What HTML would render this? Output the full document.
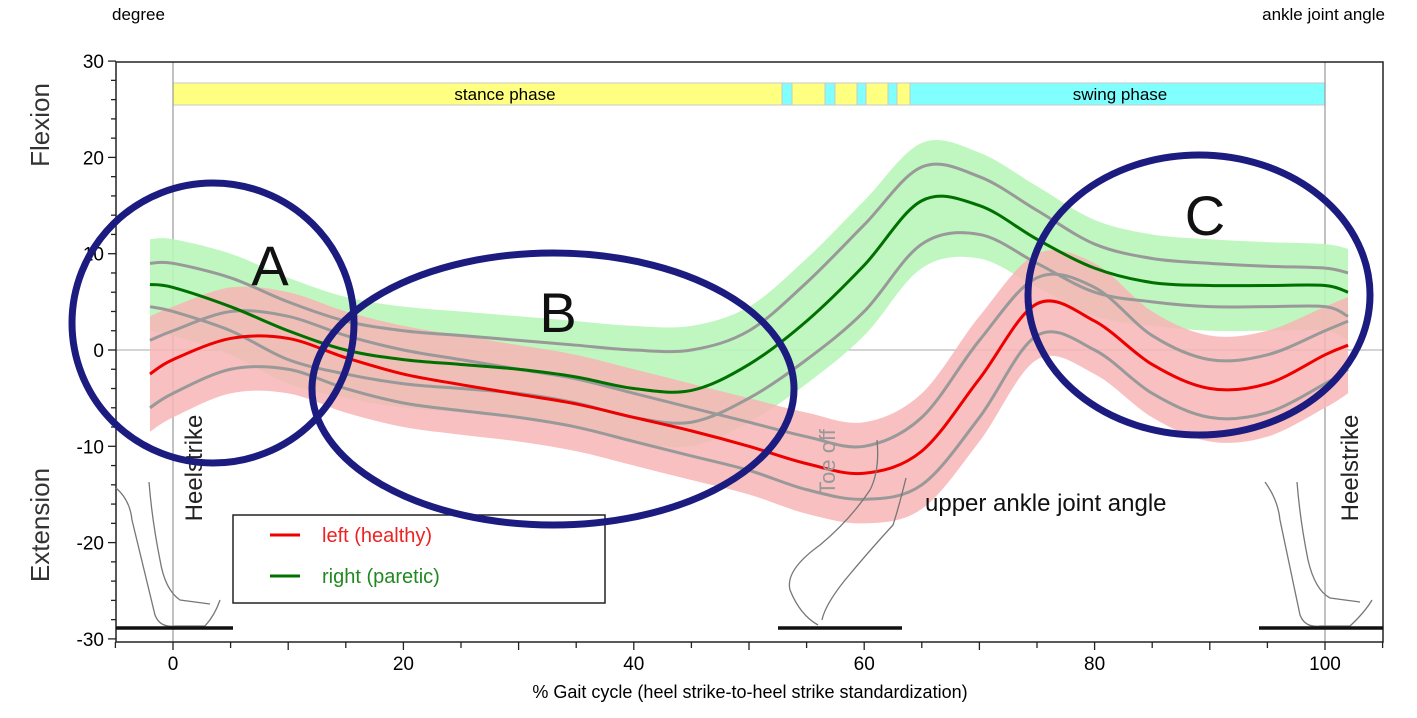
<!DOCTYPE html>
<html><head><meta charset="utf-8"><style>
body{margin:0;background:#fff;}
svg{display:block;font-family:"Liberation Sans",sans-serif;}
</style></head><body>
<svg id="c" width="1417" height="718" viewBox="0 0 1417 718"></svg>
<script>
const xs = [-2,0,5,10,15,20,25,30,35,40,45,50,55,60,65,70,75,80,85,90,95,100,102];
const redMean = [-2.5,-1,1.2,1.2,-0.8,-2.5,-3.6,-4.6,-5.6,-7,-8.4,-10,-11.8,-12.8,-10.5,-3,4.8,3,-1.5,-4,-3.5,-0.5,0.5];
const redUpper = [1,2,4,3.5,1.5,0,-1,-2,-3,-4.5,-6,-7.5,-9,-10,-7,1,7.5,6.5,1.5,-1,-0.5,2,3];
const redLower = [-6,-4.5,-2,-2,-4,-5.5,-6.3,-7,-8,-9.5,-11,-12.5,-14.5,-15.5,-14,-7,1.5,0,-4.5,-7,-6.5,-3.5,-2];
const greenMean = [6.8,6.5,4.5,2,0,-1,-1.5,-2,-2.8,-4,-4.2,-1.5,3,8.8,15.5,15,11.5,8.5,7,6.7,6.7,6.7,6];
const greenUpper = [9,9,7.5,5,3,2,1.5,1,0.5,0,0,2,7,13,19,18,14.5,11,9.5,9,8.7,8.5,8];
const greenLower = [4.5,4,2,-1,-2.5,-3.5,-4,-4.5,-5.5,-7,-7.5,-5,-1,4,11,12,9,6,5,4.5,4.5,4.5,3.5];
const xTicks = [0,20,40,60,80,100];
const yTicks = [-30,-20,-10,0,10,20,30];

const svg = document.getElementById('c');
const NS = 'http://www.w3.org/2000/svg';
const X = v => 173 + v * 11.52;
const Y = v => 350 - v * 9.63;
function mk(tag, attrs, parent){const e=document.createElementNS(NS,tag);for(const k in attrs)e.setAttribute(k,attrs[k]);(parent||svg).appendChild(e);return e;}
function curve(p){let d='';
  for(let i=0;i<p.length-1;i++){const p0=p[i-1]||p[i],p1=p[i],p2=p[i+1],p3=p[i+2]||p2;
    d+=`C${p1[0]+(p2[0]-p0[0])/6},${p1[1]+(p2[1]-p0[1])/6} ${p2[0]-(p3[0]-p1[0])/6},${p2[1]-(p3[1]-p1[1])/6} ${p2[0]},${p2[1]}`;}
  return d;}
function smooth(arr){const p=arr.map((v,i)=>[X(xs[i]),Y(v)]);return 'M'+p[0][0]+','+p[0][1]+curve(p);}
function band(up,lo,extra){
  const u=up.map(v=>v+extra), l=lo.map(v=>v-extra);
  let d=smooth(u);
  const p=l.map((v,i)=>[X(xs[i]),Y(v)]).reverse();
  d+='L'+p[0][0]+','+p[0][1]+curve(p);
  return d+'Z';}

const segs=[[173,782,'#ffff80'],[782,792,'#80ffff'],[792,825,'#ffff80'],[825,835,'#80ffff'],[835,857,'#ffff80'],[857,866,'#80ffff'],[866,888,'#ffff80'],[888,897,'#80ffff'],[897,910,'#ffff80'],[910,1325,'#80ffff']];
const pb=mk('g',{});
segs.forEach(s=>mk('rect',{x:s[0],y:83,width:s[1]-s[0],height:22,fill:s[2],stroke:'#c8c8c8','stroke-width':1},pb));
let t=mk('text',{x:505,y:100,'font-size':17,'text-anchor':'middle'});t.textContent='stance phase';
t=mk('text',{x:1120,y:100,'font-size':17,'text-anchor':'middle'});t.textContent='swing phase';

mk('line',{x1:X(0),y1:62,x2:X(0),y2:642,stroke:'#999','stroke-width':1.2});
mk('line',{x1:X(100),y1:62,x2:X(100),y2:642,stroke:'#999','stroke-width':1.2});
mk('line',{x1:116,y1:Y(0),x2:1383,y2:Y(0),stroke:'#aaa','stroke-width':1});

let b=mk('path',{d:band(greenUpper,greenLower,2.5),fill:'#b9f5b9',opacity:0.9});
b=mk('path',{d:band(redUpper,redLower,2.5),fill:'#f7b5b5',opacity:0.85});
[[greenUpper,'right-sd-upper'],[greenLower,'right-sd-lower'],[redUpper,'left-sd-upper'],[redLower,'left-sd-lower']].forEach(a=>{
  const p=mk('path',{d:smooth(a[0]),fill:'none',stroke:'#999','stroke-width':3});});
let m=mk('path',{d:smooth(greenMean),fill:'none',stroke:'#007000','stroke-width':3});
m=mk('path',{d:smooth(redMean),fill:'none',stroke:'#ee0000','stroke-width':3});

mk('rect',{x:116,y:62,width:1267,height:580,fill:'none',stroke:'#222','stroke-width':1.5});
for(let v=-30;v<=30;v+=2){const big=v%10===0;mk('line',{x1:big?108:111,y1:Y(v),x2:116,y2:Y(v),stroke:'#222','stroke-width':1.3});}
yTicks.forEach(v=>{const e=mk('text',{x:104,y:Y(v)+7,'font-size':19,'text-anchor':'end'});e.textContent=v;});
for(let v=-5;v<=105;v+=5){mk('line',{x1:X(v),y1:642,x2:X(v),y2:v%10===0?650:648,stroke:'#222','stroke-width':1.3});}
xTicks.forEach(v=>{const e=mk('text',{x:X(v),y:670,'font-size':19,'text-anchor':'middle'});e.textContent=v;});
t=mk('text',{x:750,y:698,'font-size':18,'text-anchor':'middle'});t.textContent='% Gait cycle (heel strike-to-heel strike standardization)';
t=mk('text',{x:112,y:20,'font-size':17});t.textContent='degree';
t=mk('text',{x:1385,y:20,'font-size':17,'text-anchor':'end'});t.textContent='ankle joint angle';
t=mk('text',{x:0,y:0,'font-size':26,'text-anchor':'middle',fill:'#333',transform:'translate(49,125) rotate(-90)'});t.textContent='Flexion';
t=mk('text',{x:0,y:0,'font-size':26,'text-anchor':'middle',fill:'#333',transform:'translate(49,525) rotate(-90)'});t.textContent='Extension';
t=mk('text',{x:0,y:0,'font-size':24,'text-anchor':'middle',fill:'#222',transform:'translate(202,468) rotate(-90)'});t.textContent='Heelstrike';
t=mk('text',{x:0,y:0,'font-size':24,'text-anchor':'middle',fill:'#222',transform:'translate(1358,468) rotate(-90)'});t.textContent='Heelstrike';
t=mk('text',{x:0,y:0,'font-size':22,'text-anchor':'middle',fill:'#999',transform:'translate(835,462) rotate(-90)'});t.textContent='Toe off';
t=mk('text',{x:925,y:511,'font-size':24,fill:'#111'});t.textContent='upper ankle joint angle';

const feet=mk('g',{fill:'none',stroke:'#777','stroke-width':1.3});
mk('path',{d:'M116,488 Q130,500 132,520 L155,615 Q160,628 175,626 L205,626 Q215,615 220,600 M149,482 Q152,520 160,560 Q165,590 180,600 L210,604',},feet);
mk('path',{d:'M877,440 Q880,470 870,490 Q850,520 820,545 Q785,570 790,590 Q800,615 818,625 M906,478 Q898,510 893,525 Q870,550 845,580 Q825,605 822,620',},feet);
mk('path',{d:'M1265,482 Q1278,500 1280,520 L1300,615 Q1305,628 1320,626 L1350,626 Q1365,612 1372,600 M1297,482 Q1300,520 1308,560 Q1315,590 1330,598 L1360,602',},feet);
[[116,233],[778,902],[1259,1383]].forEach(g=>{const l=mk('line',{x1:g[0],y1:628,x2:g[1],y2:628,stroke:'#111','stroke-width':3.5});});

const lg=mk('g',{});
mk('rect',{x:233,y:515,width:372,height:88,fill:'#fff',stroke:'#222','stroke-width':1.5},lg);
mk('line',{x1:270,y1:535,x2:300,y2:535,stroke:'#ee0000','stroke-width':3},lg);
mk('line',{x1:270,y1:576,x2:300,y2:576,stroke:'#007000','stroke-width':3},lg);
t=mk('text',{x:322,y:542,'font-size':20,fill:'#ee2222'},lg);t.textContent='left (healthy)';
t=mk('text',{x:322,y:583,'font-size':20,fill:'#228822'},lg);t.textContent='right (paretic)';

[[213,323,141,140,'A',270,285],[553,389,241,136,'B',558,332],[1199,295,171,140,'C',1205,235]].forEach(e=>{
  const el=mk('ellipse',{cx:e[0],cy:e[1],rx:e[2],ry:e[3],fill:'none',stroke:'#1c1c80','stroke-width':7});
  
  const tx=mk('text',{x:e[5],y:e[6],'font-size':56,'text-anchor':'middle',fill:'#111'});tx.textContent=e[4];
  });
</script>
</body></html>
